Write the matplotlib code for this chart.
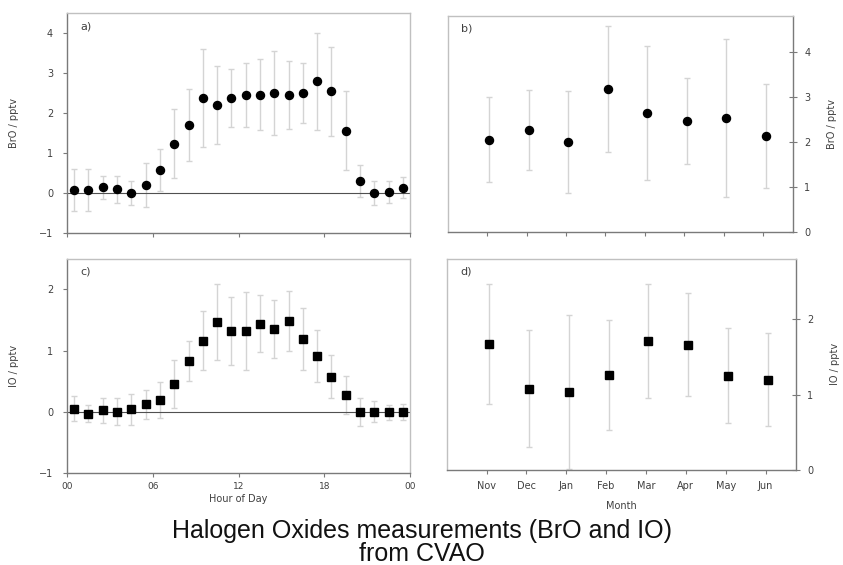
import matplotlib
matplotlib.use('Agg')
import matplotlib.pyplot as plt
import numpy as np

# diurnal cycle (hourly means, centred on the half hour)
hours = np.arange(24) + 0.5
bro_hour = [0.07, 0.07, 0.14, 0.09, 0.0, 0.2, 0.58, 1.23, 1.70, 2.37, 2.2, 2.37,
            2.45, 2.46, 2.51, 2.45, 2.49, 2.79, 2.54, 1.56, 0.31, 0.0, 0.03, 0.13]
bro_hour_sd = [0.52, 0.52, 0.29, 0.33, 0.31, 0.55, 0.52, 0.86, 0.89, 1.22, 0.97, 0.72,
               0.79, 0.88, 1.05, 0.85, 0.75, 1.22, 1.12, 0.99, 0.4, 0.3, 0.28, 0.26]
io_hour = [0.05, -0.03, 0.02, 0.0, 0.04, 0.12, 0.19, 0.45, 0.83, 1.16, 1.47, 1.32,
           1.32, 1.44, 1.35, 1.48, 1.19, 0.91, 0.57, 0.27, 0.0, 0.0, -0.01, -0.01]
io_hour_sd = [0.2, 0.14, 0.2, 0.22, 0.25, 0.24, 0.3, 0.39, 0.32, 0.48, 0.62, 0.55,
              0.64, 0.47, 0.47, 0.49, 0.51, 0.43, 0.35, 0.31, 0.23, 0.17, 0.12, 0.13]

# monthly means
months = ['Nov', 'Dec', 'Jan', 'Feb', 'Mar', 'Apr', 'May', 'Jun']
bro_month = [2.05, 2.27, 2.0, 3.18, 2.64, 2.47, 2.53, 2.13]
bro_month_sd = [0.94, 0.89, 1.13, 1.4, 1.49, 0.95, 1.75, 1.15]
io_month = [1.67, 1.08, 1.04, 1.26, 1.71, 1.66, 1.25, 1.2]
io_month_sd = [0.8, 0.77, 1.02, 0.73, 0.75, 0.68, 0.63, 0.62]

txt = '#404040'
spine_c = '#c0c0c0'
axis_c = '#7a7a7a'
err_c = '#d4d4d4'

fig = plt.figure(figsize=(8.43, 5.65), dpi=100)
ax_a = fig.add_axes([0.0795, 0.5876, 0.4069, 0.3894])
ax_b = fig.add_axes([0.531, 0.589, 0.410, 0.383])
ax_c = fig.add_axes([0.0795, 0.163, 0.4069, 0.379])
ax_d = fig.add_axes([0.530, 0.168, 0.414, 0.374])


def style(ax, yside):
    for s in ax.spines.values():
        s.set_color(spine_c)
        s.set_linewidth(1.0)
    ax.spines['bottom'].set_color(axis_c)
    ax.spines[yside].set_color(axis_c)
    ax.tick_params(colors=axis_c, labelcolor=txt, labelsize=7, length=3, width=0.8,
                   direction='out')


def hour_panel(ax, y, sd, marker, ms, ylim, yticks, ylabel, letter):
    ax.errorbar(hours, y, yerr=sd, fmt='none', ecolor=err_c, elinewidth=1.0,
                capsize=2.5, capthick=1.0, zorder=1)
    ax.plot(hours, y, ls='none', marker=marker, ms=ms, color='black', zorder=3)
    ax.axhline(0, color='#505050', lw=0.8, zorder=2)
    ax.set_xlim(0, 24)
    ax.set_ylim(*ylim)
    ax.set_xticks([0, 6, 12, 18, 24])
    ax.set_yticks(yticks)
    ax.set_ylabel(ylabel, fontsize=7, color=txt, labelpad=14)
    ax.text(0.04, 0.94, letter, transform=ax.transAxes, fontsize=8, color=txt,
            va='center')
    style(ax, 'left')
    ax.tick_params(axis='y', pad=7)


def month_panel(ax, y, sd, marker, ms, ylim, yticks, ylabel, letter):
    x = np.arange(len(months))
    ax.errorbar(x, y, yerr=sd, fmt='none', ecolor=err_c, elinewidth=1.0,
                capsize=2.5, capthick=1.0, zorder=1)
    ax.plot(x, y, ls='none', marker=marker, ms=ms, color='black', zorder=3)
    ax.set_xlim(-1.06, 7.7)
    ax.set_ylim(*ylim)
    ax.set_xticks(x - 0.06)
    ax.set_yticks(yticks)
    ax.yaxis.tick_right()
    ax.yaxis.set_label_position('right')
    ax.set_ylabel(ylabel, fontsize=7, color=txt, labelpad=12)
    ax.text(0.04, 0.94, letter, transform=ax.transAxes, fontsize=8, color=txt,
            va='center')
    style(ax, 'right')
    ax.tick_params(axis='y', direction='inout', length=6, pad=5)


hour_panel(ax_a, bro_hour, bro_hour_sd, 'o', 5.8, (-1, 4.5), [-1, 0, 1, 2, 3, 4],
           'BrO / pptv', 'a)')
ax_a.set_xticklabels([])
hour_panel(ax_c, io_hour, io_hour_sd, 's', 5.2, (-1, 2.5), [-1, 0, 1, 2],
           'IO / pptv', 'c)')
ax_c.set_xticklabels(['00', '06', '12', '18', '00'])
ax_c.tick_params(axis='x', labelsize=6.5)
ax_c.set_xlabel('Hour of Day', fontsize=7, color=txt, labelpad=2)

month_panel(ax_b, bro_month, bro_month_sd, 'o', 5.8, (0, 4.8), [0, 1, 2, 3, 4],
            'BrO / pptv', 'b)')
ax_b.set_xticklabels([])
month_panel(ax_d, io_month, io_month_sd, 's', 5.2, (0, 2.8), [0, 1, 2],
            'IO / pptv', 'd)')
ax_d.set_xticklabels(months)
ax_d.tick_params(axis='x', labelsize=7, pad=5)
ax_d.set_xlabel('Month', fontsize=7, color=txt, labelpad=7)

fig.text(0.5, 0.039, 'Halogen Oxides measurements (BrO and IO)\nfrom CVAO',
         ha='center', va='center', fontsize=18, family='Liberation Sans',
         color='#111111', linespacing=0.95)

fig.savefig('out.png', dpi=100, facecolor='white')
